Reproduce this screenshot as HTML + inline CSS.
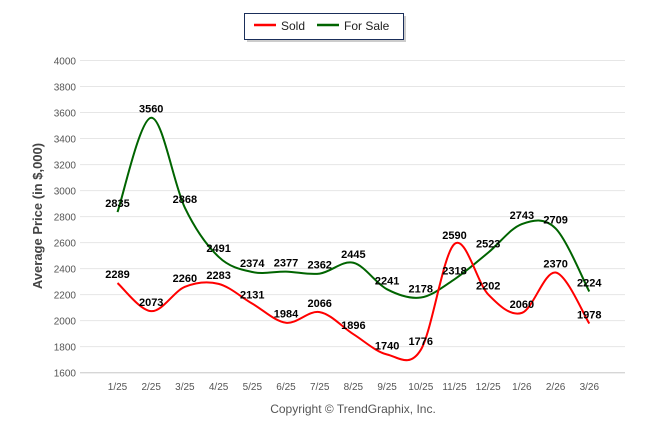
<!DOCTYPE html>
<html><head><meta charset="utf-8"><style>
body{margin:0;background:#fff;font-family:"Liberation Sans",sans-serif;}
svg text{font-family:"Liberation Sans",sans-serif;}
</style></head><body>
<svg id="chart" width="646" height="434" xmlns="http://www.w3.org/2000/svg">
<g>
<rect x="247" y="16" width="159" height="26" fill="#999" opacity="0.5"/>
<rect x="244.5" y="13.5" width="159" height="26" fill="#fff" stroke="#1a2e5a" stroke-width="1"/>
<line x1="254" y1="25" x2="276" y2="25" stroke="#f00" stroke-width="2.5"/>
<text x="281" y="30" font-size="12" fill="#222">Sold</text>
<line x1="317" y1="25" x2="339" y2="25" stroke="#006400" stroke-width="2.5"/>
<text x="344" y="30" font-size="12" fill="#222">For Sale</text>
</g>
<text transform="translate(42,216) rotate(-90)" text-anchor="middle" font-size="13" font-weight="bold" fill="#444">Average Price (in $,000)</text>
<text x="353" y="413" text-anchor="middle" font-size="12" fill="#555">Copyright © TrendGraphix, Inc.</text>
<g id="grid"></g><g id="series"></g><g id="labels"></g>
</svg>
<script>
const categories=["1/25","2/25","3/25","4/25","5/25","6/25","7/25","8/25","9/25","10/25","11/25","12/25","1/26","2/26","3/26"];
const soldValues=[2289,2073,2260,2283,2131,1984,2066,1896,1740,1776,2590,2202,2060,2370,1978];
const forSaleValues=[2835,3560,2868,2491,2374,2377,2362,2445,2241,2178,2318,2523,2743,2709,2224];
const yTicks=[1600,1800,2000,2200,2400,2600,2800,3000,3200,3400,3600,3800,4000];
const NS="http://www.w3.org/2000/svg";
const xScale=i=>117.5+i*33.7;
const yScale=v=>372.7-(v-1600)*(312.2/2400);
function mk(t,a,p){const e=document.createElementNS(NS,t);for(const k in a)e.setAttribute(k,a[k]);p.appendChild(e);return e;}
const grid=document.getElementById('grid');
yTicks.forEach(v=>{
  const l=mk('line',{x1:80,x2:625,y1:yScale(v),y2:yScale(v),stroke:'#e6e6e6','stroke-width':1},grid);
  
  
  const t=mk('text',{x:76,y:yScale(v)+4,'text-anchor':'end','font-size':10,fill:'#555'},grid);
  t.textContent=v;
  
  
});
mk('line',{x1:80,x2:625,y1:372.7,y2:372.7,stroke:'#ccc'},grid);
categories.forEach((c,i)=>{
  const t=mk('text',{x:xScale(i),y:390,'text-anchor':'middle','font-size':10,fill:'#555'},grid);
  t.textContent=c;
  
  
});
function spline(vals){
  const p=vals.map((v,i)=>[xScale(i),yScale(v)]);
  let d='M'+p[0][0]+','+p[0][1];
  for(let i=0;i<p.length-1;i++){
    const p0=p[Math.max(0,i-1)],p1=p[i],p2=p[i+1],p3=p[Math.min(p.length-1,i+2)];
    const t=1/6;
    d+=' C'+(p1[0]+(p2[0]-p0[0])*t)+','+(p1[1]+(p2[1]-p0[1])*t)+' '+(p2[0]-(p3[0]-p1[0])*t)+','+(p2[1]-(p3[1]-p1[1])*t)+' '+p2[0]+','+p2[1];
  }
  return d;
}
const sg=document.getElementById('series'),lg=document.getElementById('labels');
[[forSaleValues,'#006400','for-sale-line'],[soldValues,'#f00','sold-line']].forEach(([vals,col,name])=>{
  const path=mk('path',{d:spline(vals),fill:'none',stroke:col,'stroke-width':2},sg);
  
  
  vals.forEach((v,i)=>{
    const t=mk('text',{x:xScale(i),y:yScale(v)-5,'text-anchor':'middle','font-size':11,'font-weight':'bold',fill:'#000'},lg);
    t.textContent=v;
    
    
  });
});
</script>
</body></html>
